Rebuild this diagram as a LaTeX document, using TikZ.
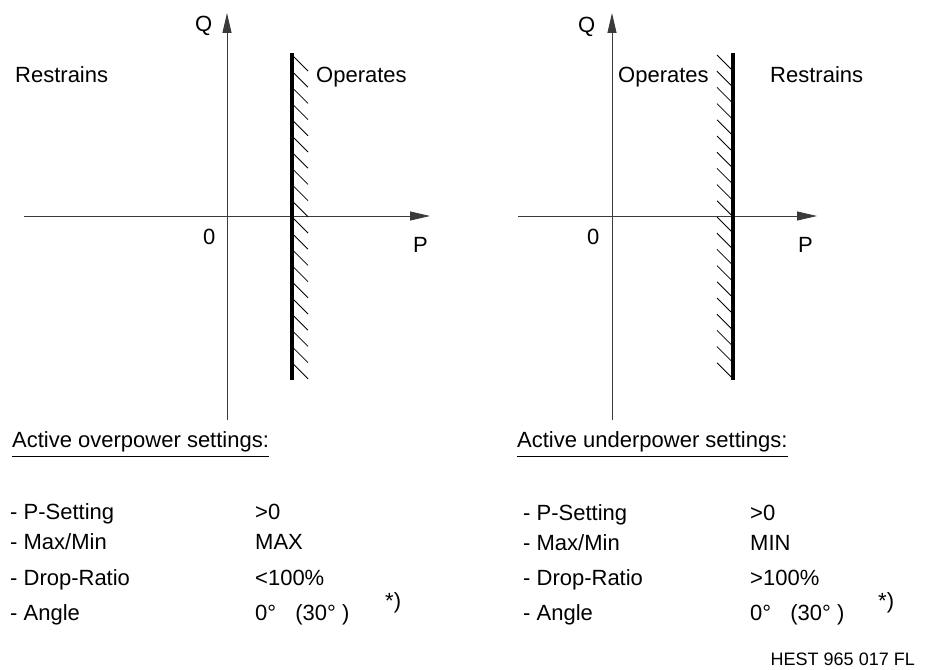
\documentclass[tikz,border=0pt]{standalone}
\usepackage{fontspec}
\setmainfont{Liberation Sans}
\usetikzlibrary{arrows.meta}
\definecolor{PowerAxis}{HTML}{3A3A3A}
\definecolor{PowerBound}{HTML}{000000}
\definecolor{PowerText}{HTML}{000000}

\begin{document}
\begin{tikzpicture}[x=1pt,y=-1pt,
    axisline/.style={PowerAxis, line width=0.9pt, -{Triangle[length=20pt,width=9pt]}},
    boundline/.style={PowerBound, line width=3.4pt},
    hatchline/.style={PowerBound, line width=0.8pt},
    lbl/.style={anchor=base west, inner sep=0pt, text=PowerText, font=\fontsize{22pt}{26pt}\selectfont}]
        \useasboundingbox (0,0) rectangle (925,669);
        % overpower plane
        \draw[axisline] (227,420) -- (227,13);
        \draw[axisline] (24,216) -- (430,216);
        \draw[boundline] (292,53) -- (292,380);
        \foreach \i in {0,...,19} {
          \draw[hatchline] (292,55+16.2*\i) -- ++(16,16);
        }
        \node[lbl] (qOver) at (195,32) {Q};
        \node[lbl] (restrainsOver) at (15,82) {Restrains};
        \node[lbl] (operatesOver) at (316,82) {Operates};
        \node[lbl] (zeroOver) at (203,244) {0};
        \node[lbl] (pOver) at (413,252) {P};
        % underpower plane
        \draw[axisline] (612,420) -- (612,13);
        \draw[axisline] (518,216) -- (817,216);
        \draw[boundline] (733,53) -- (733,380);
        \foreach \i in {0,...,19} {
          \draw[hatchline] (717,55+16.2*\i) -- ++(16,16);
        }
        \node[lbl] (qUnder) at (578,33) {Q};
        \node[lbl] (operatesUnder) at (618,82) {Operates};
        \node[lbl] (restrainsUnder) at (770,82) {Restrains};
        \node[lbl] (zeroUnder) at (587,244) {0};
        \node[lbl] (pUnder) at (798,252) {P};
        % settings, overpower
        \node[lbl] (titleOver) at (12,447) {Active overpower settings:};
        \draw[PowerText, line width=0.9pt] ([yshift=-9pt]titleOver.base west) -- ([yshift=-9pt]titleOver.base east);
        \node[lbl] (setOver) at (10,519) {- P-Setting};
        \node[lbl] (maxOver) at (10,549) {- Max/Min};
        \node[lbl] (dropOver) at (10,585) {- Drop-Ratio};
        \node[lbl] (angleOver) at (10,620) {- Angle};
        \node[lbl] (setOverVal) at (255,519) {>0};
        \node[lbl] (maxOverVal) at (255,549) {MAX};
        \node[lbl] (dropOverVal) at (255,585) {<100\%};
        \node[lbl] (angleOverVal) at (255,620) {0°\hspace{13pt} (30° )};
        \node[lbl] (noteOver) at (385,608) {*)};
        % settings, underpower
        \node[lbl] (titleUnder) at (517,447) {Active underpower settings:};
        \draw[PowerText, line width=0.9pt] ([yshift=-9pt]titleUnder.base west) -- ([yshift=-9pt]titleUnder.base east);
        \node[lbl] (setUnder) at (523,520) {- P-Setting};
        \node[lbl] (maxUnder) at (523,550) {- Max/Min};
        \node[lbl] (dropUnder) at (523,585) {- Drop-Ratio};
        \node[lbl] (angleUnder) at (523,620) {- Angle};
        \node[lbl] (setUnderVal) at (750,520) {>0};
        \node[lbl] (maxUnderVal) at (750,550) {MIN};
        \node[lbl] (dropUnderVal) at (750,585) {>100\%};
        \node[lbl] (angleUnderVal) at (750,620) {0°\hspace{13pt} (30° )};
        \node[lbl] (noteUnder) at (878,608) {*)};
        \node[anchor=base east, inner sep=0pt, text=PowerText, font=\fontsize{18pt}{22pt}\selectfont] (docRef) at (915,665) {HEST 965 017 FL};
      \end{tikzpicture}
\end{document}
